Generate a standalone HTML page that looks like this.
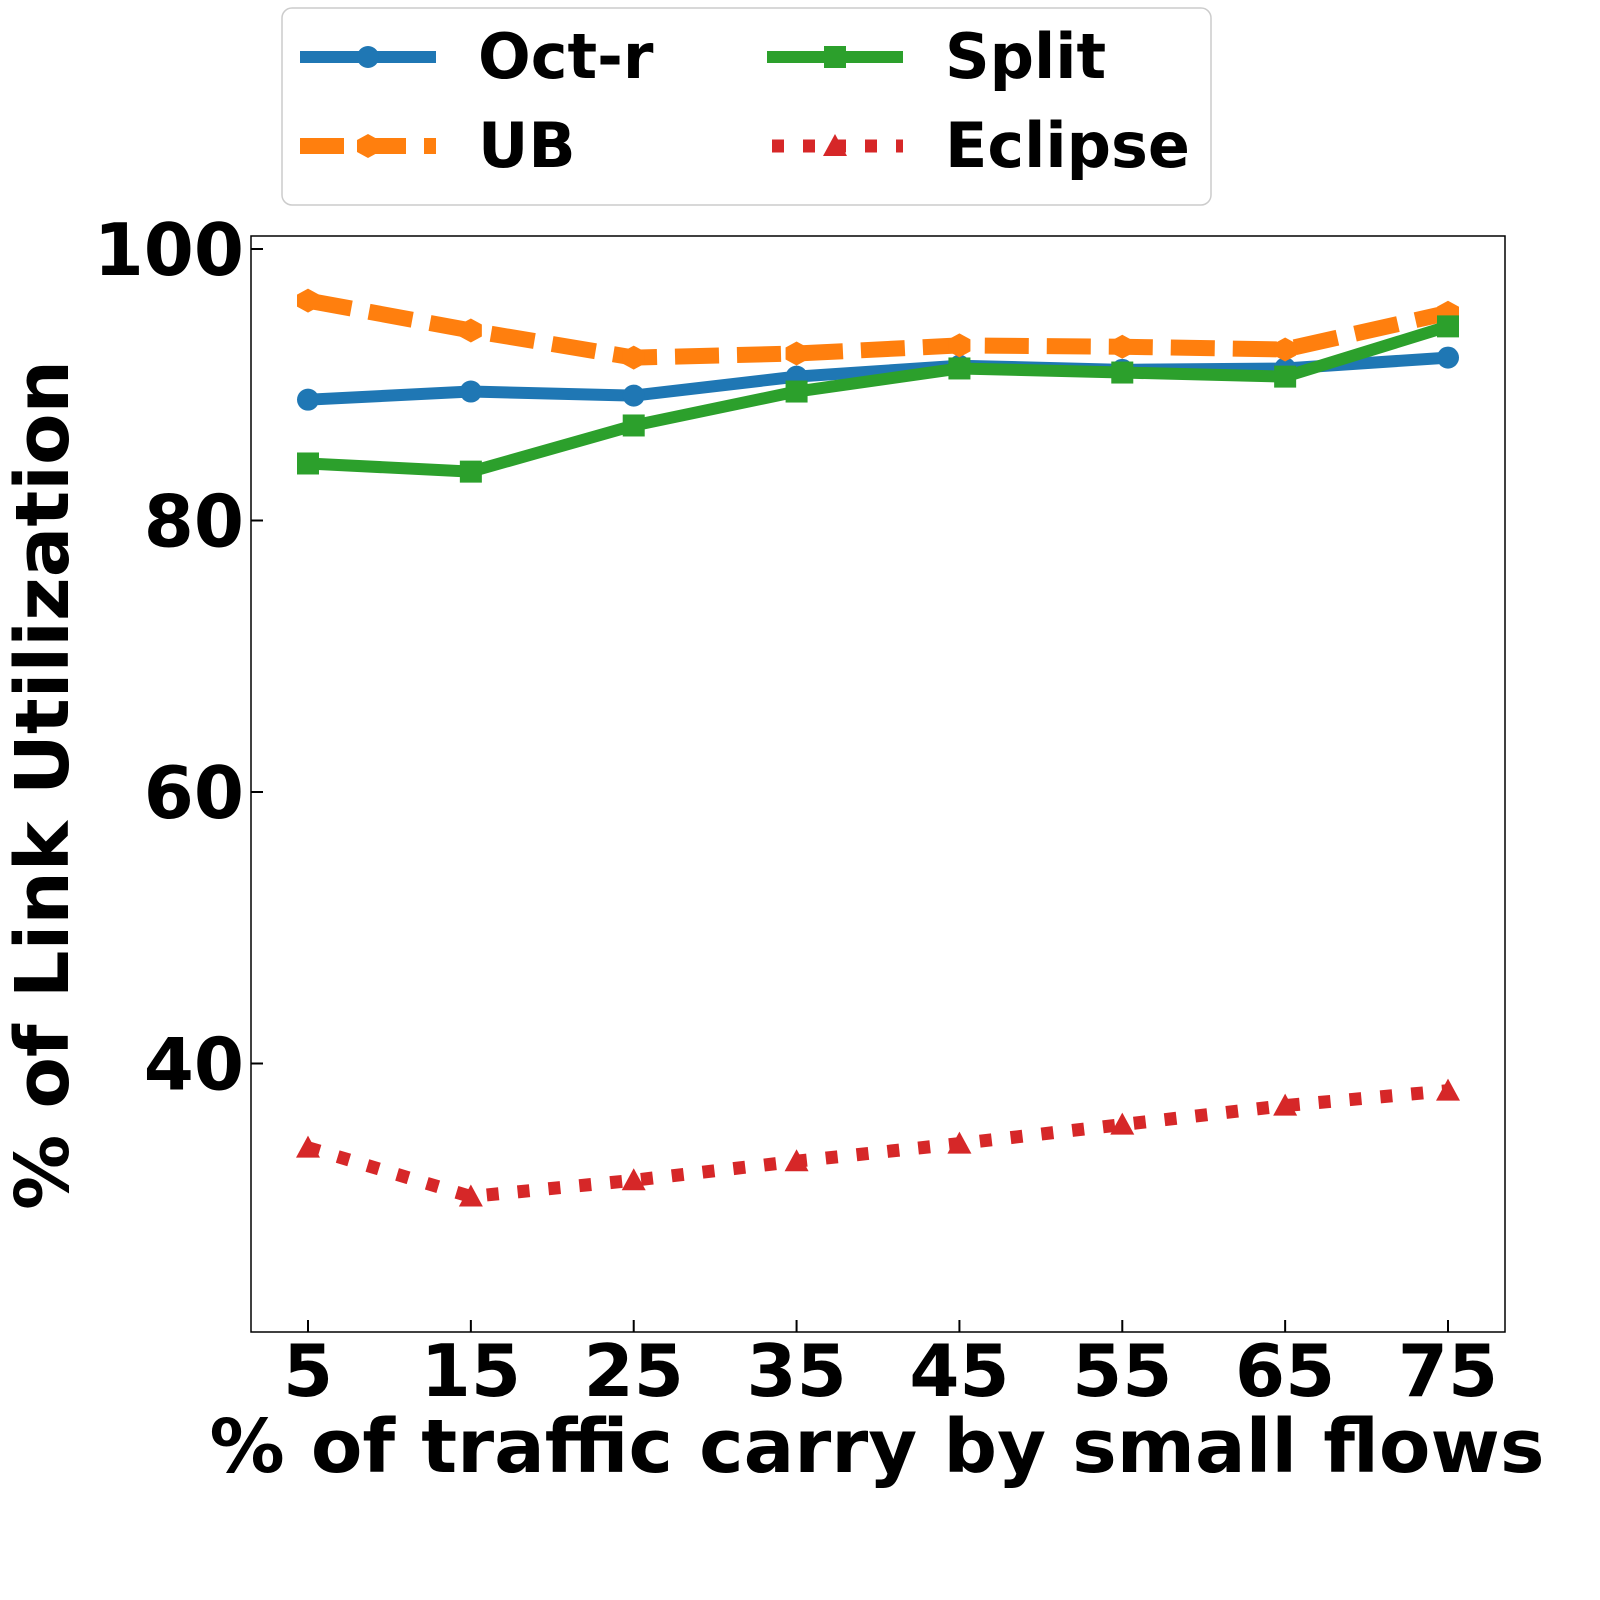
<!DOCTYPE html>
<html><head><meta charset="utf-8"><style>
html,body{margin:0;padding:0;background:#fff;}
svg{display:block;font-family:"DejaVu Sans","Liberation Sans",sans-serif;font-weight:bold;}
</style></head><body>
<svg id="chart" width="1600" height="1600" viewBox="0 0 1600 1600">
<g id="plot"></g>
<rect x="251" y="236" width="1254" height="1096" fill="none" stroke="#000" stroke-width="1.5"/>
<g id="axes"></g>
<text x="877" y="1472" text-anchor="middle" font-size="74" textLength="1335" lengthAdjust="spacingAndGlyphs">% of traffic carry by small flows</text>
<text transform="translate(68,785) rotate(-90)" text-anchor="middle" font-size="74" textLength="850" lengthAdjust="spacingAndGlyphs">% of Link Utilization</text>
<g>
<rect x="282" y="8" width="929" height="197" rx="10" fill="#fff" stroke="#ccc" stroke-width="1.5"/>
<g>
<line x1="300" y1="57" x2="436" y2="57" stroke="#1f77b4" stroke-width="12"/><circle cx="368" cy="57" r="11" fill="#1f77b4"/>
<text x="478" y="78" font-size="62">Oct-r</text></g>
<g>
<line x1="300" y1="146" x2="436" y2="146" stroke="#ff7f0e" stroke-width="16" stroke-dasharray="44,18"/><polygon points="368,134 379,140 379,152 368,158 357,152 357,140" fill="#ff7f0e"/>
<text x="478" y="167" font-size="62">UB</text></g>
<g>
<line x1="767" y1="57" x2="903" y2="57" stroke="#2ca02c" stroke-width="12"/><rect x="824" y="46" width="22" height="22" fill="#2ca02c"/>
<text x="945" y="78" font-size="62">Split</text></g>
<g>
<line x1="772" y1="146" x2="903" y2="146" stroke="#d62728" stroke-width="13" stroke-dasharray="12,19"/><polygon points="835,134 847,156 823,156" fill="#d62728"/>
<text x="945" y="167" font-size="62">Eclipse</text></g>
</g>
</svg>
<script>
const categories=[5,15,25,35,45,55,65,75];
const octR=[88.9,89.5,89.2,90.6,91.4,91.1,91.2,92.0];
const ub=[96.2,94.0,92.0,92.3,92.9,92.8,92.6,95.3];
const split=[84.2,83.6,87.0,89.5,91.2,90.9,90.6,94.3];
const eclipse=[33.8,30.2,31.4,32.8,34.1,35.5,36.9,38.0];
const yTicks=[40,60,80,100];
const NS="http://www.w3.org/2000/svg";
function xs(v){return 308+(v-5)*(1140/70);}
function ys(v){return 249+(100-v)*(271.5/20);}
const plot=document.getElementById('plot');
const axes=document.getElementById('axes');
function mk(tag,attrs,parent){const e=document.createElementNS(NS,tag);for(const k in attrs)e.setAttribute(k,attrs[k]);parent.appendChild(e);return e;}
function series(vals,name,color,width,dash,marker){
  const g=mk('g',{},plot);
  
  
  const pts=vals.map((v,i)=>xs(categories[i])+','+ys(v)).join(' ');
  const pl=mk('polyline',{points:pts,fill:'none',stroke:color,'stroke-width':width,'stroke-dasharray':dash||'none','stroke-linejoin':'round'},g);
  
  
  vals.forEach((v,i)=>{
    const x=xs(categories[i]),y=ys(v);let m;
    if(marker==='circle')m=mk('circle',{cx:x,cy:y,r:11,fill:color},g);
    else if(marker==='square')m=mk('rect',{x:x-11,y:y-11,width:22,height:22,fill:color},g);
    else if(marker==='hex')m=mk('polygon',{points:`${x},${y-12} ${x+11},${y-6} ${x+11},${y+6} ${x},${y+12} ${x-11},${y+6} ${x-11},${y-6}`,fill:color},g);
    else m=mk('polygon',{points:`${x},${y-12} ${x+12},${y+10} ${x-12},${y+10}`,fill:color},g);
    
    
  });
}
series(octR,'oct-r','#1f77b4',12,null,'circle');
series(ub,'ub','#ff7f0e',16,'44,18','hex');
series(split,'split','#2ca02c',12,null,'square');
series(eclipse,'eclipse','#d62728',13,'12,19','tri');
categories.forEach(c=>{
  const x=xs(c);
  const t=mk('line',{x1:x,y1:1332,x2:x,y2:1320,stroke:'#000','stroke-width':2},axes);
  
  
  const l=mk('text',{x:x,y:1396,'text-anchor':'middle','font-size':72},axes);
  l.textContent=c;
  
  
});
yTicks.forEach(v=>{
  const y=ys(v);
  const t=mk('line',{x1:251,y1:y,x2:263,y2:y,stroke:'#000','stroke-width':2},axes);
  
  
  const l=mk('text',{x:244,y:y+26,'text-anchor':'end','font-size':72},axes);
  l.textContent=v;
  
  
});
</script>
</body></html>
